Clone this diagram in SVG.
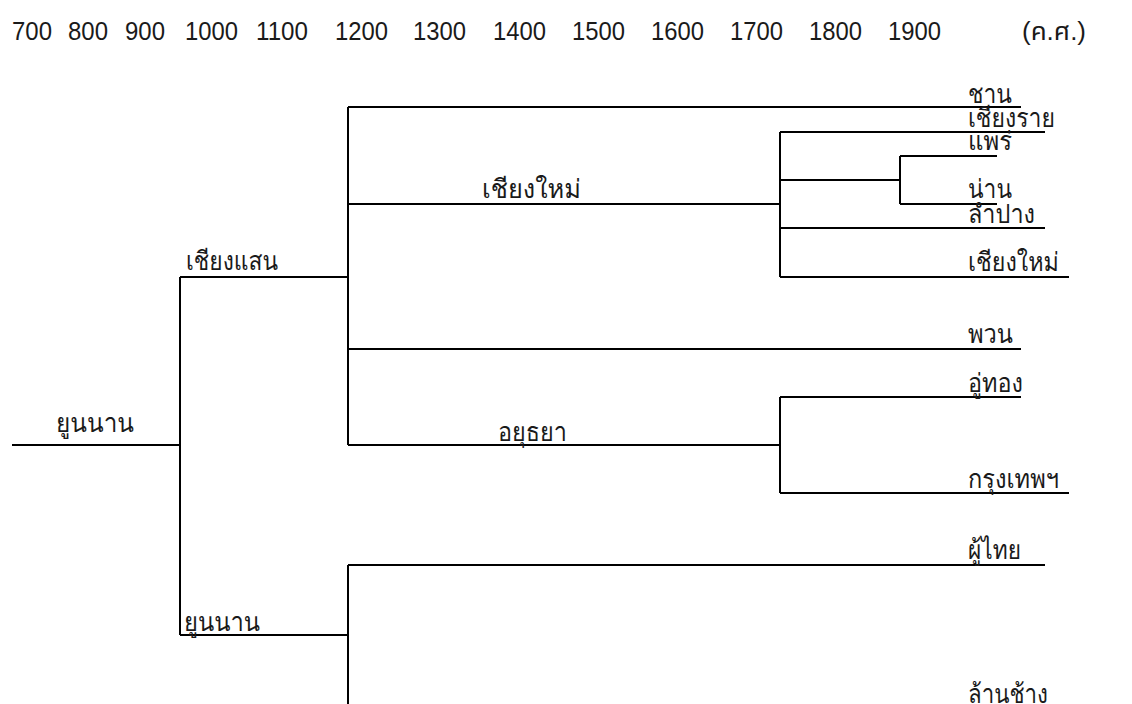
<svg xmlns="http://www.w3.org/2000/svg" width="1132" height="704" viewBox="0 0 1132 704">
<style>
.axis{font-family:"Liberation Sans","Noto Sans Thai",sans-serif;font-size:25px;fill:#1a1a1a}
.lbl{font-family:"Loma","Garuda","Noto Sans Thai Looped","Noto Sans Thai","Noto Sans",sans-serif;font-size:26px;fill:#1a1a1a}
.edge{fill:none;stroke:#000;stroke-width:2}
</style>
<rect width="1132" height="704" fill="#fff"/>
<g id="axis">
<text class="axis" x="12" y="39.5" textLength="40" lengthAdjust="spacingAndGlyphs">700</text>
<text class="axis" x="68" y="39.5" textLength="40" lengthAdjust="spacingAndGlyphs">800</text>
<text class="axis" x="125" y="39.5" textLength="40" lengthAdjust="spacingAndGlyphs">900</text>
<text class="axis" x="185" y="39.5" textLength="53" lengthAdjust="spacingAndGlyphs">1000</text>
<text class="axis" x="256" y="39.5" textLength="52" lengthAdjust="spacingAndGlyphs">1100</text>
<text class="axis" x="335" y="39.5" textLength="53" lengthAdjust="spacingAndGlyphs">1200</text>
<text class="axis" x="413" y="39.5" textLength="53" lengthAdjust="spacingAndGlyphs">1300</text>
<text class="axis" x="493" y="39.5" textLength="53" lengthAdjust="spacingAndGlyphs">1400</text>
<text class="axis" x="572" y="39.5" textLength="53" lengthAdjust="spacingAndGlyphs">1500</text>
<text class="axis" x="651" y="39.5" textLength="53" lengthAdjust="spacingAndGlyphs">1600</text>
<text class="axis" x="730" y="39.5" textLength="53" lengthAdjust="spacingAndGlyphs">1700</text>
<text class="axis" x="809" y="39.5" textLength="53" lengthAdjust="spacingAndGlyphs">1800</text>
<text class="axis" x="888" y="39.5" textLength="53" lengthAdjust="spacingAndGlyphs">1900</text>
<text class="axis" x="1022" y="39.5" textLength="64" lengthAdjust="spacingAndGlyphs">(ค.ศ.)</text>
</g>
<g id="connectors">
<path class="edge" d="M12,445H180"/>
<path class="edge" d="M180,277V635"/>
<path class="edge" d="M180,277H348"/>
<path class="edge" d="M180,635H348"/>
<path class="edge" d="M348,107V445"/>
<path class="edge" d="M348,565V704"/>
<path class="edge" d="M348,107H1021"/>
<path class="edge" d="M348,204H780"/>
<path class="edge" d="M348,349H1021"/>
<path class="edge" d="M348,445H780"/>
<path class="edge" d="M780,132V277"/>
<path class="edge" d="M780,132H1045"/>
<path class="edge" d="M780,180H900"/>
<path class="edge" d="M780,228H1045"/>
<path class="edge" d="M780,277H1069"/>
<path class="edge" d="M900,156V204"/>
<path class="edge" d="M900,156H997"/>
<path class="edge" d="M900,204H997"/>
<path class="edge" d="M780,397V493"/>
<path class="edge" d="M780,397H1021"/>
<path class="edge" d="M780,493H1069"/>
<path class="edge" d="M348,565H1045"/>
</g>
<g id="node-yunnan-root"><text class="lbl" x="56" y="432" textLength="78" lengthAdjust="spacingAndGlyphs">ยูนนาน</text></g>
<g id="node-chiangsaen"><text class="lbl" x="186" y="270" textLength="92" lengthAdjust="spacingAndGlyphs">เชียงแสน</text></g>
<g id="node-yunnan-2"><text class="lbl" x="184" y="631" textLength="76" lengthAdjust="spacingAndGlyphs">ยูนนาน</text></g>
<g id="node-chiangmai-mid"><text class="lbl" x="482" y="198" textLength="99" lengthAdjust="spacingAndGlyphs">เชียงใหม่</text></g>
<g id="node-ayutthaya"><text class="lbl" x="498" y="441" textLength="69" lengthAdjust="spacingAndGlyphs">อยุธยา</text></g>
<g id="node-chan"><text class="lbl" x="968" y="103" textLength="44" lengthAdjust="spacingAndGlyphs">ชาน</text></g>
<g id="node-chiangrai"><text class="lbl" x="968" y="127" textLength="87" lengthAdjust="spacingAndGlyphs">เชียงราย</text></g>
<g id="node-phrae"><text class="lbl" x="968" y="150" textLength="44" lengthAdjust="spacingAndGlyphs">แพร่</text></g>
<g id="node-nan"><text class="lbl" x="968" y="198" textLength="44" lengthAdjust="spacingAndGlyphs">น่าน</text></g>
<g id="node-lampang"><text class="lbl" x="968" y="223" textLength="67" lengthAdjust="spacingAndGlyphs">ลำปาง</text></g>
<g id="node-chiangmai"><text class="lbl" x="968" y="271" textLength="91" lengthAdjust="spacingAndGlyphs">เชียงใหม่</text></g>
<g id="node-phuan"><text class="lbl" x="968" y="343" textLength="45" lengthAdjust="spacingAndGlyphs">พวน</text></g>
<g id="node-uthong"><text class="lbl" x="968" y="392" textLength="55" lengthAdjust="spacingAndGlyphs">อู่ทอง</text></g>
<g id="node-bangkok"><text class="lbl" x="968" y="488" textLength="91" lengthAdjust="spacingAndGlyphs">กรุงเทพฯ</text></g>
<g id="node-phuthai"><text class="lbl" x="968" y="559" textLength="53" lengthAdjust="spacingAndGlyphs">ผู้ไทย</text></g>
<g id="node-lanchang"><text class="lbl" x="968" y="703" textLength="80" lengthAdjust="spacingAndGlyphs">ล้านช้าง</text></g>
</svg>
